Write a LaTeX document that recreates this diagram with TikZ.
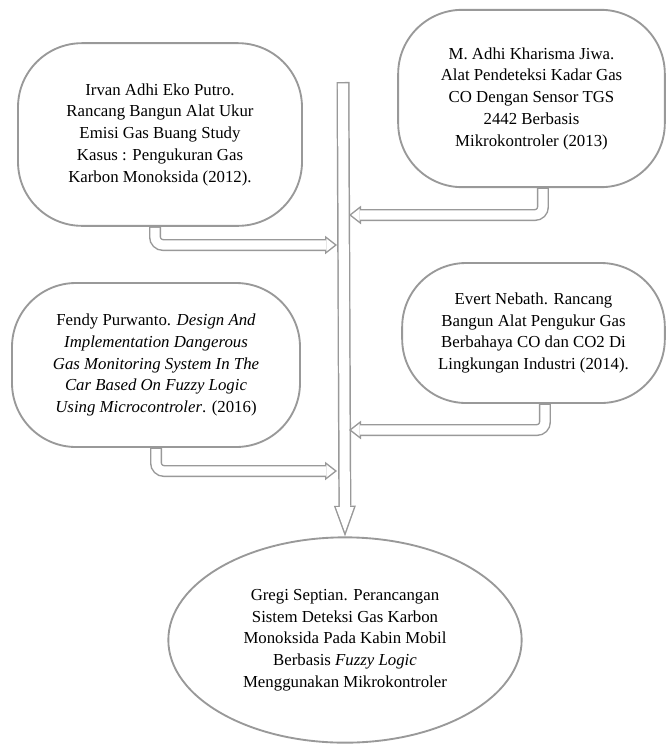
\documentclass[tikz,border=0pt]{standalone}
\usepackage{fontspec}
\setmainfont{Liberation Serif}
\usetikzlibrary{arrows.meta,shapes.geometric}

\begin{document}
\begin{tikzpicture}[x=0.75pt,y=-0.75pt,
    ref/.style={draw=gray!80, line width=1.4pt, rounded corners=48pt,
      align=center, inner sep=0pt, font=\fontsize{12.6}{16.3}\selectfont},
    pipe/.style={draw=white, line width=6.8pt, rounded corners=6pt,
      shorten <=0.8pt, shorten >=1.8pt,
      -{Triangle[length=6.1pt 0 0,width=9.5pt 0 0,line width=0pt 0 0]},
      preaction={draw=gray!80, line width=9pt, shorten <=0pt, shorten >=0pt,
        -{Triangle[length=9pt 0 0,width=14pt 0 0,line width=0pt 0 0]}}},
    bar/.style={draw=white, line width=7.55pt,
      shorten <=1.1pt, shorten >=3.3pt,
      -{Triangle[length=18.6pt 0 0,width=13.4pt 0 0,line width=0pt 0 0]},
      preaction={draw=gray!80, line width=9.75pt, shorten <=0pt, shorten >=0pt,
        -{Triangle[length=23pt 0 0,width=16.5pt 0 0,line width=0pt 0 0]}}}]
  \useasboundingbox (0,0) rectangle (667,744);

  % studi terdahulu
  \node[ref, minimum width=213pt, minimum height=137pt] (irvan) at (160,134.5)
    {Irvan Adhi Eko Putro.\\ Rancang Bangun Alat Ukur\\ Emisi Gas Buang Study\\
     Kasus : Pengukuran Gas\\ Karbon Monoksida (2012).};
  \node[ref, minimum width=200pt, minimum height=133pt] (kharisma) at (531.5,98.5)
    {M. Adhi Kharisma Jiwa.\\ Alat Pendeteksi Kadar Gas\\ CO Dengan Sensor TGS\\
     2442 Berbasis\\ Mikrokontroler (2013)};
  \node[ref, minimum width=216pt, minimum height=123pt] (fendy) at (156,365)
    {Fendy Purwanto. \textit{Design And}\\ \textit{Implementation Dangerous}\\
     \textit{Gas Monitoring System In The}\\ \textit{Car Based On Fuzzy Logic}\\
     \textit{Using Microcontroler}. (2016)};
  \node[ref, minimum width=197pt, minimum height=105pt] (evert) at (533.5,333)
    {Evert Nebath. Rancang\\ Bangun Alat Pengukur Gas\\ Berbahaya CO dan CO2 Di\\
     Lingkungan Industri (2014).};

  % penelitian ini
  \node[ref, ellipse, minimum width=265pt, minimum height=154pt] (gregi) at (345,640)
    {Gregi Septian. Perancangan\\ Sistem Deteksi Gas Karbon\\
     Monoksida Pada Kabin Mobil\\ Berbasis \textit{Fuzzy Logic}\\
     Menggunakan Mikrokontroler};

  \coordinate (top) at (343,82);
  \coordinate (e1) at (337,245);
  \coordinate (e2) at (349,215);
  \coordinate (e3) at (337,471);
  \coordinate (e4) at (349,430);

  \draw[bar] (top) -- (gregi.north);
  \draw[pipe] ([xshift=-3.75pt]irvan.south) |- (e1);
  \draw[pipe] ([xshift=8.6pt]kharisma.south) |- (e2);
  \draw[pipe] (fendy.south) |- (e3);
  \draw[pipe] ([xshift=8.6pt]evert.south) |- (e4);
\end{tikzpicture}
\end{document}
